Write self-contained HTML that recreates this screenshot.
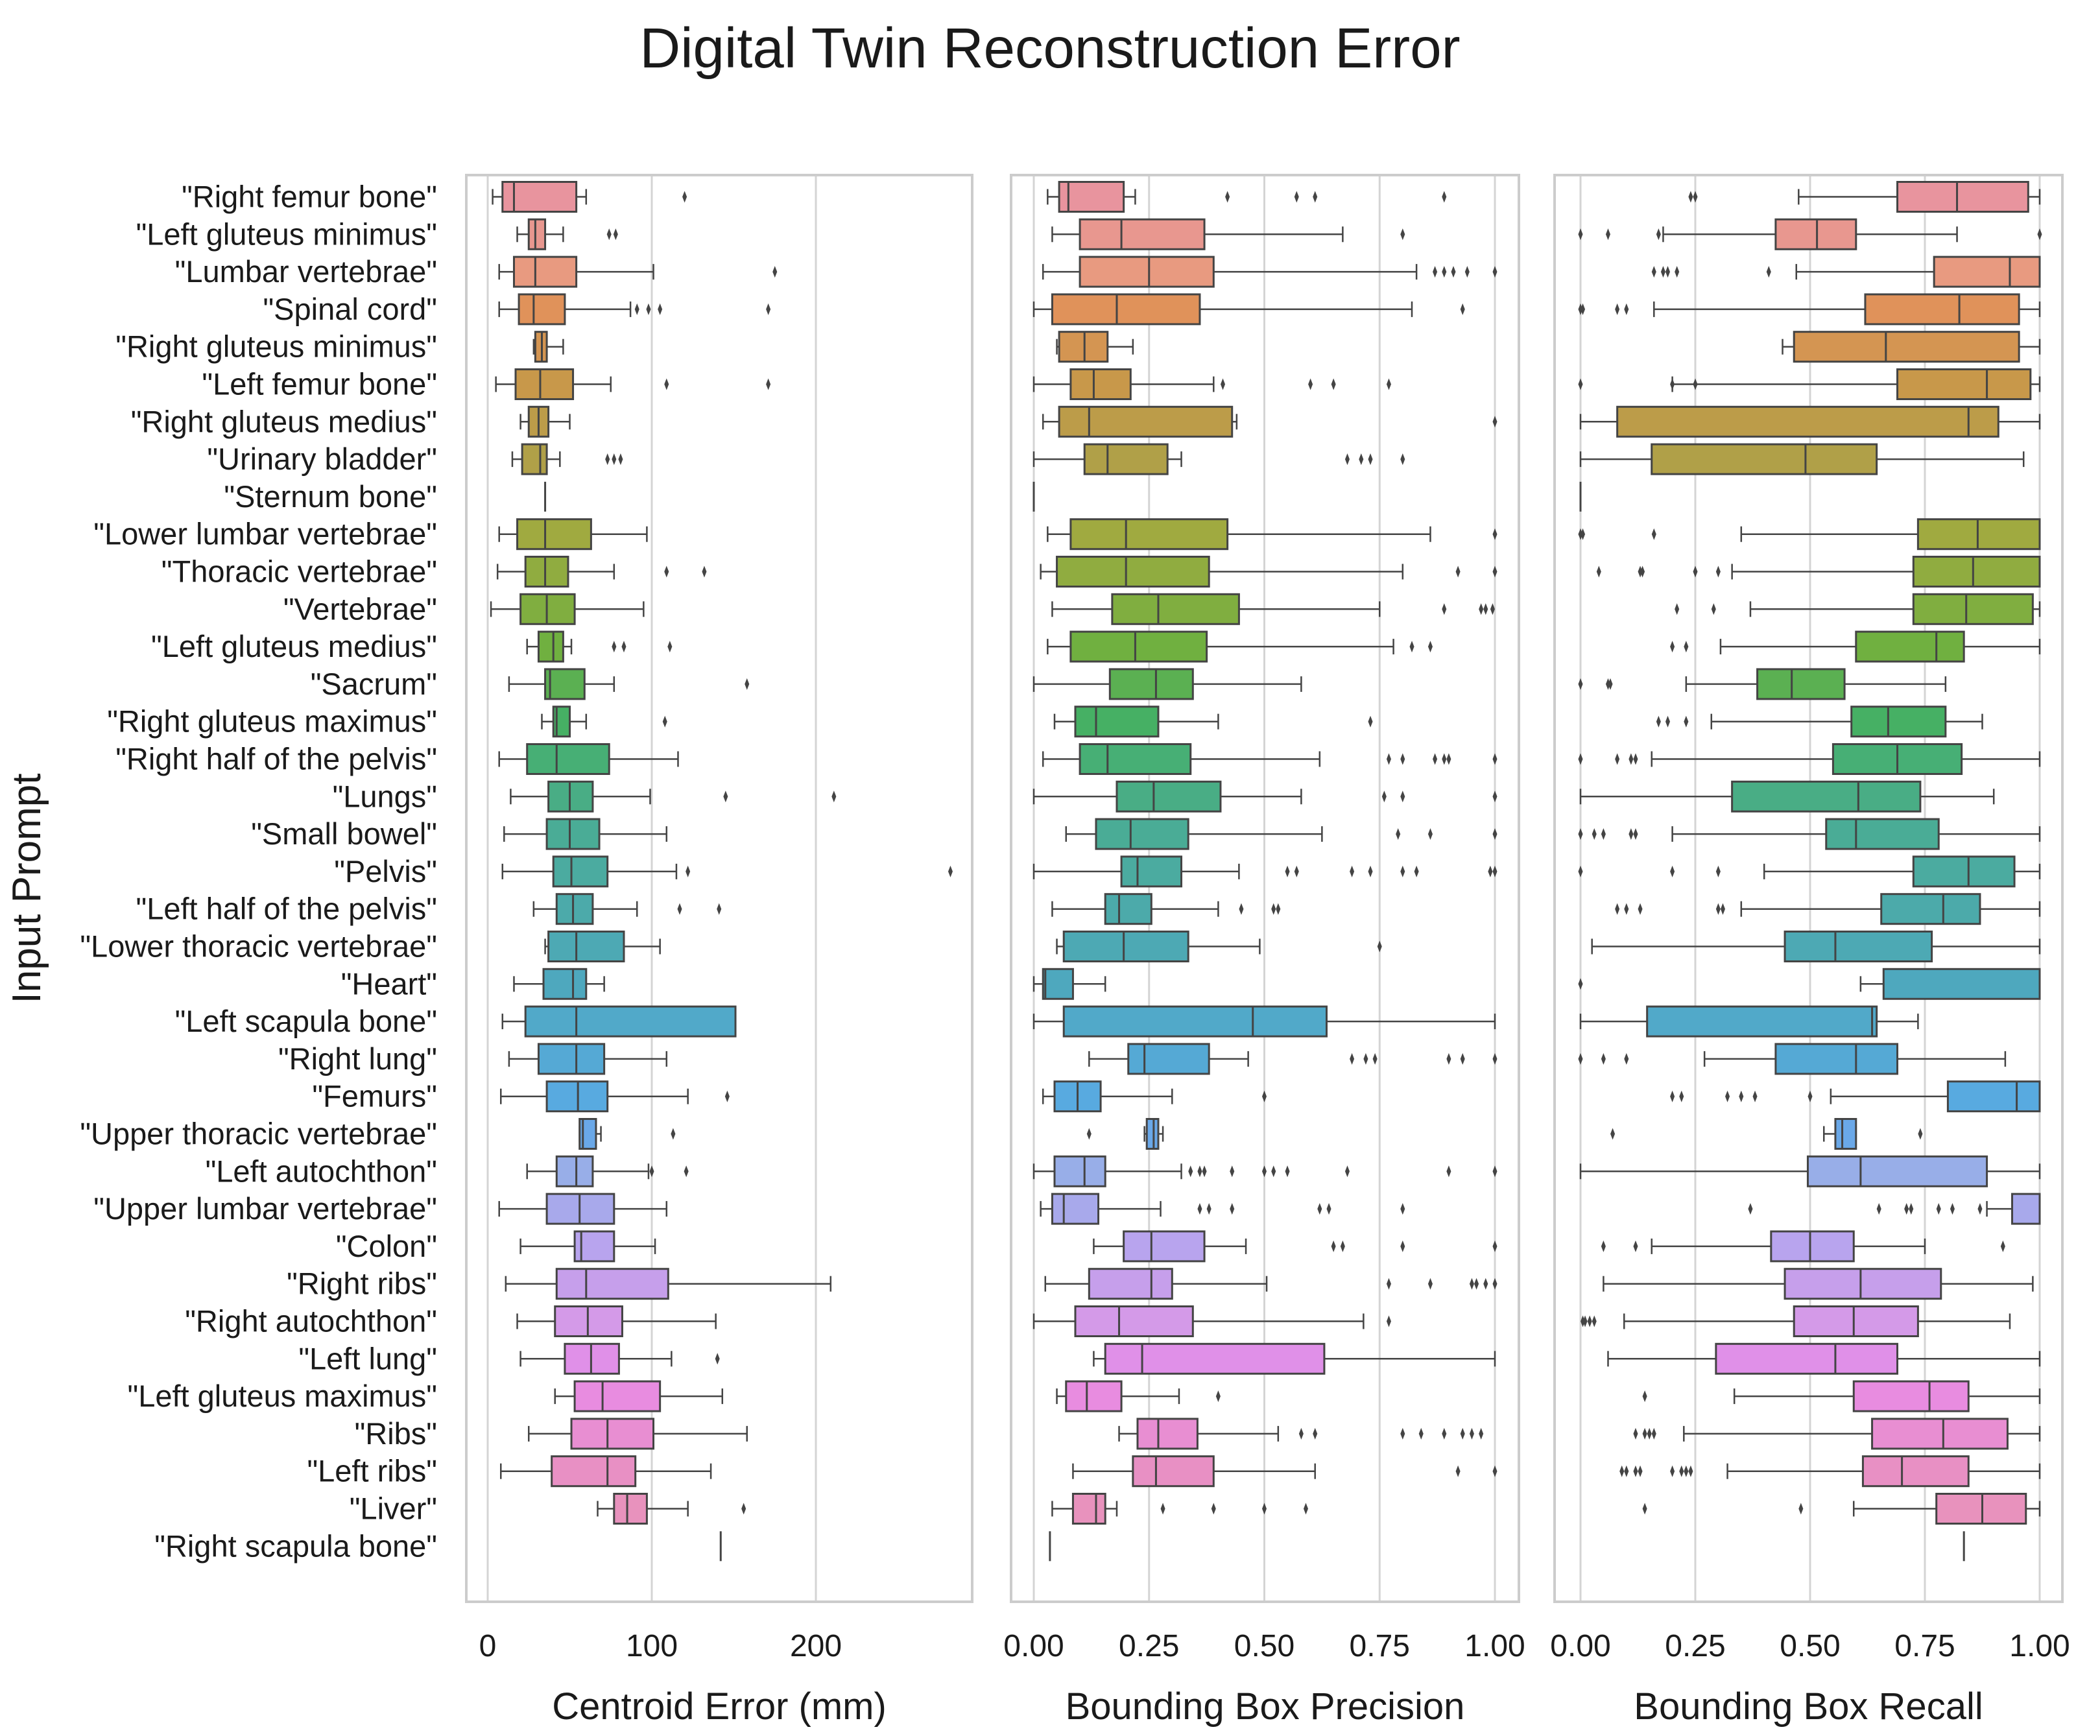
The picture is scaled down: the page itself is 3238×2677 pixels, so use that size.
<!DOCTYPE html>
<html><head><meta charset="utf-8"><style>
html,body{margin:0;padding:0;background:#fff}
svg{display:block;font-family:"Liberation Sans","DejaVu Sans",sans-serif}
</style></head><body>
<svg id="chart" xmlns="http://www.w3.org/2000/svg" width="3238" height="2677" viewBox="0 0 3238 2677">
<rect width="3238" height="2677" fill="#fff"/>
<text x="1619" y="104" font-size="87" text-anchor="middle" fill="#1a1a1a">Digital Twin Reconstruction Error</text>
<text transform="translate(62,1370) rotate(-90)" font-size="62" text-anchor="middle" fill="#1a1a1a">Input Prompt</text>
<g id="plots"></g>
</svg>
<script>
const categories = ["\"Right femur bone\"","\"Left gluteus minimus\"","\"Lumbar vertebrae\"","\"Spinal cord\"","\"Right gluteus minimus\"","\"Left femur bone\"","\"Right gluteus medius\"","\"Urinary bladder\"","\"Sternum bone\"","\"Lower lumbar vertebrae\"","\"Thoracic vertebrae\"","\"Vertebrae\"","\"Left gluteus medius\"","\"Sacrum\"","\"Right gluteus maximus\"","\"Right half of the pelvis\"","\"Lungs\"","\"Small bowel\"","\"Pelvis\"","\"Left half of the pelvis\"","\"Lower thoracic vertebrae\"","\"Heart\"","\"Left scapula bone\"","\"Right lung\"","\"Femurs\"","\"Upper thoracic vertebrae\"","\"Left autochthon\"","\"Upper lumbar vertebrae\"","\"Colon\"","\"Right ribs\"","\"Right autochthon\"","\"Left lung\"","\"Left gluteus maximus\"","\"Ribs\"","\"Left ribs\"","\"Liver\"","\"Right scapula bone\""];
// [whisker low, q1, median, q3, whisker high]
const centroidStats = [[3,9,16,54,60],[18,25,29,35,46],[7,16,29,54,101],[7,19,28,47,87],[28,29,33,36,46],[5,17,32,52,75],[20,25,31,37,50],[15,21,32,36,44],[35,35,35,35,35],[7,18,35,63,97],[6,23,35,49,77],[2,20,36,53,95],[24,31,40,46,51],[13,35,38,59,77],[33,40,42,50,60],[7,24,42,74,116],[14,37,50,64,99],[10,36,50,68,109],[9,40,51,73,115],[28,42,52,64,91],[35,37,54,83,105],[16,34,52,60,71],[9,23,54,151,151],[13,31,54,71,109],[8,36,55,73,122],[56,56,58,66,69],[24,42,54,64,98],[7,36,56,77,109],[20,53,57,77,102],[11,42,60,110,209],[18,41,61,82,139],[20,47,63,80,112],[41,53,70,105,143],[25,51,73,101,158],[8,39,73,90,136],[67,77,85,97,122],[142,142,142,142,142]];
const centroidOut = [[120],[74,78],[175],[91,98,105,171],[],[109,171],[],[73,77,81],[],[],[109,132],[],[77,83,111],[158],[108],[],[145,211],[],[122,282],[117,141],[],[],[],[],[146],[113],[100,121],[],[],[],[],[140],[],[],[],[156],[]];
const precisionStats = [[.03,.055,.075,.195,.22],[.04,.10,.19,.37,.67],[.02,.10,.25,.39,.83],[0,.04,.18,.36,.82],[.05,.055,.11,.16,.215],[0,.08,.13,.21,.39],[.02,.055,.12,.43,.44],[0,.11,.16,.29,.32],[0,0,0,0,0],[.03,.08,.20,.42,.86],[.015,.05,.20,.38,.80],[.04,.17,.27,.445,.75],[.03,.08,.22,.375,.78],[0,.165,.265,.345,.58],[.045,.09,.135,.27,.40],[.02,.10,.16,.34,.62],[0,.18,.26,.405,.58],[.07,.135,.21,.335,.625],[0,.19,.225,.32,.445],[.04,.155,.185,.255,.40],[.05,.065,.195,.335,.49],[0,.02,.025,.085,.155],[0,.065,.475,.635,1.0],[.12,.205,.24,.38,.465],[.02,.045,.095,.145,.30],[.24,.245,.26,.27,.28],[0,.045,.11,.155,.32],[.015,.04,.065,.14,.275],[.13,.195,.255,.37,.46],[.025,.12,.255,.30,.505],[0,.09,.185,.345,.715],[.13,.155,.235,.63,1.0],[.05,.07,.115,.19,.315],[.185,.225,.27,.355,.53],[.085,.215,.265,.39,.61],[.04,.085,.135,.155,.18],[.035,.035,.035,.035,.035]];
const precisionOut = [[.42,.57,.61,.89],[.80],[.87,.89,.91,.94,1.0],[.93],[],[.41,.60,.65,.77],[1.0],[.68,.71,.73,.80],[],[1.0],[.92,1.0],[.89,.97,.98,.995],[.82,.86],[],[.73],[.77,.80,.87,.89,.90,1.0],[.76,.80,1.0],[.79,.86,1.0],[.55,.57,.69,.73,.80,.83,.99,1.0],[.45,.52,.53],[.75],[],[],[.69,.72,.74,.90,.93,1.0],[.50],[.12],[.34,.36,.37,.43,.50,.52,.55,.68,.90,1.0],[.36,.38,.43,.62,.64,.80],[.65,.67,.80,1.0],[.77,.86,.95,.96,.98,1.0],[.77],[],[.40],[.58,.61,.80,.84,.89,.93,.95,.97],[.92,1.0],[.28,.39,.50,.59],[]];
const recallStats = [[.475,.69,.82,.975,1],[.18,.425,.515,.60,.82],[.47,.77,.935,1,1],[.16,.62,.825,.955,1],[.44,.465,.665,.955,1],[.20,.69,.885,.98,1],[0,.08,.845,.91,1],[0,.155,.49,.645,.965],[0,0,0,0,0],[.35,.735,.865,1,1],[.33,.725,.855,1,1],[.37,.725,.84,.985,1],[.305,.60,.775,.835,1],[.23,.385,.46,.575,.795],[.285,.59,.67,.795,.875],[.155,.55,.69,.83,1],[0,.33,.605,.74,.90],[.20,.535,.60,.78,1],[.40,.725,.845,.945,1],[.35,.655,.79,.87,1],[.025,.445,.555,.765,1],[.61,.66,1,1,1],[0,.145,.635,.645,.735],[.27,.425,.60,.69,.925],[.545,.80,.95,1,1],[.53,.555,.57,.60,.60],[0,.495,.61,.885,1],[.885,.94,1,1,1],[.155,.415,.50,.595,.75],[.05,.445,.61,.785,.985],[.095,.465,.595,.735,.935],[.06,.295,.555,.69,1],[.335,.595,.76,.845,1],[.225,.635,.79,.93,1],[.32,.615,.70,.845,1],[.595,.775,.875,.97,1],[.835,.835,.835,.835,.835]];
const recallOut = [[.24,.25],[0,.06,.17,1.0],[.16,.18,.19,.21,.41],[0,.005,.08,.10],[],[0,.20,.25],[],[],[],[0,.005,.16],[.04,.13,.135,.25,.30],[.21,.29],[.20,.23],[0,.06,.065],[.17,.19,.23],[0,.08,.11,.12],[],[0,.03,.05,.11,.12],[0,.20,.30],[.08,.10,.13,.30,.31],[],[0],[],[0,.05,.10],[.20,.22,.32,.35,.38,.50],[.07,.74],[],[.37,.65,.71,.72,.78,.81,.87],[.05,.12,.92],[],[.005,.01,.02,.03],[],[.14],[.12,.14,.15,.16],[.09,.10,.12,.13,.20,.22,.23,.24],[.14,.48],[]];
const centroidTicks = [0,100,200];
const unitTicks = [0,0.25,0.5,0.75,1.0];
const unitTickLabels = ["0.00","0.25","0.50","0.75","1.00"];

const NS="http://www.w3.org/2000/svg";
const root=document.getElementById('plots');
function mk(tag,attrs,parent){const e=document.createElementNS(NS,tag);for(const k in attrs)e.setAttribute(k,attrs[k]);(parent||root).appendChild(e);return e;}
const anchors=[[0,[232,148,158]],[2,[232,154,128]],[3,[224,146,90]],[5,[200,152,74]],[7,[176,160,72]],[9,[160,170,64]],[12,[112,176,64]],[14,[70,176,100]],[17,[74,172,150]],[21,[78,168,190]],[24,[88,170,224]],[25,[106,168,232]],[26,[152,174,232]],[28,[184,164,238]],[30,[212,154,232]],[31,[224,144,232]],[32,[232,140,224]],[34,[232,144,196]],[36,[232,148,182]]];
function colorAt(i){for(let a=0;a<anchors.length-1;a++){const [i0,c0]=anchors[a],[i1,c1]=anchors[a+1];if(i>=i0&&i<=i1){const t=(i-i0)/(i1-i0);return 'rgb('+c0.map((v,k)=>Math.round(v+(c1[k]-v)*t)).join(',')+')';}}return 'rgb(232,148,182)';}
const top0=270,bot0=2470,rowY0=303.5,rowStep=57.8,boxH=46;
function rowY(i){return rowY0+i*rowStep;}
const panels=[
 {name:'centroid',l:719,r:1499,x0:752,x1:1005,v1:100,ticks:centroidTicks,labels:centroidTicks.map(String),stats:centroidStats,out:centroidOut,title:'Centroid Error (mm)'},
 {name:'precision',l:1559,r:2342,x0:1594,x1:2305,v1:1,ticks:unitTicks,labels:unitTickLabels,stats:precisionStats,out:precisionOut,title:'Bounding Box Precision'},
 {name:'recall',l:2397,r:3180,x0:2437,x1:3145,v1:1,ticks:unitTicks,labels:unitTickLabels,stats:recallStats,out:recallOut,title:'Bounding Box Recall'}];
panels.forEach(p=>{
 const sx=v=>p.x0+(p.x1-p.x0)*v/p.v1;
 const g=mk('g',{});
 
 
 p.ticks.forEach((t,k)=>{
  const gl=mk('line',{x1:sx(t),x2:sx(t),y1:top0,y2:bot0,stroke:'#d4d4d4','stroke-width':3},g);
  
  
  const tl=mk('text',{x:sx(t),y:2554,'font-size':48,'text-anchor':'middle',fill:'#1a1a1a'},g);
  tl.textContent=p.labels[k];
  
  
 });
 p.stats.forEach((s,i)=>{
  const y=rowY(i),c=colorAt(i);
  const b=mk('g',{},g);
  
  
  const [wl,q1,md,q3,wh]=s;
  if(wl===wh){mk('line',{x1:sx(md),x2:sx(md),y1:y-boxH/2,y2:y+boxH/2,stroke:'#444','stroke-width':3},b);}
  else{
   mk('line',{x1:sx(wl),x2:sx(q1),y1:y,y2:y,stroke:'#444','stroke-width':2.5},b);
   mk('line',{x1:sx(q3),x2:sx(wh),y1:y,y2:y,stroke:'#444','stroke-width':2.5},b);
   mk('line',{x1:sx(wl),x2:sx(wl),y1:y-12,y2:y+12,stroke:'#444','stroke-width':2.5},b);
   mk('line',{x1:sx(wh),x2:sx(wh),y1:y-12,y2:y+12,stroke:'#444','stroke-width':2.5},b);
   mk('rect',{x:sx(q1),y:y-boxH/2,width:Math.max(1,sx(q3)-sx(q1)),height:boxH,fill:c,stroke:'#444','stroke-width':3},b);
   mk('line',{x1:sx(md),x2:sx(md),y1:y-boxH/2,y2:y+boxH/2,stroke:'#444','stroke-width':3},b);
  }
  p.out[i].forEach(o=>{const x=sx(o);mk('path',{d:`M${x},${y-9}L${x+3.5},${y}L${x},${y+9}L${x-3.5},${y}Z`,fill:'#444'},b);});
 });
 const fr=mk('rect',{x:p.l,y:top0,width:p.r-p.l,height:bot0-top0,fill:'none',stroke:'#cccccc','stroke-width':4},g);
 
 
 const at=mk('text',{x:(p.l+p.r)/2,y:2651,'font-size':58,'text-anchor':'middle',fill:'#1a1a1a'},g);
 at.textContent=p.title;
 
 
});
categories.forEach((c,i)=>{
 const t=mk('text',{x:674,y:rowY(i)+16,'font-size':47,'text-anchor':'end',fill:'#1a1a1a'});
 t.textContent=c;
 
 
});
</script>
</body></html>
